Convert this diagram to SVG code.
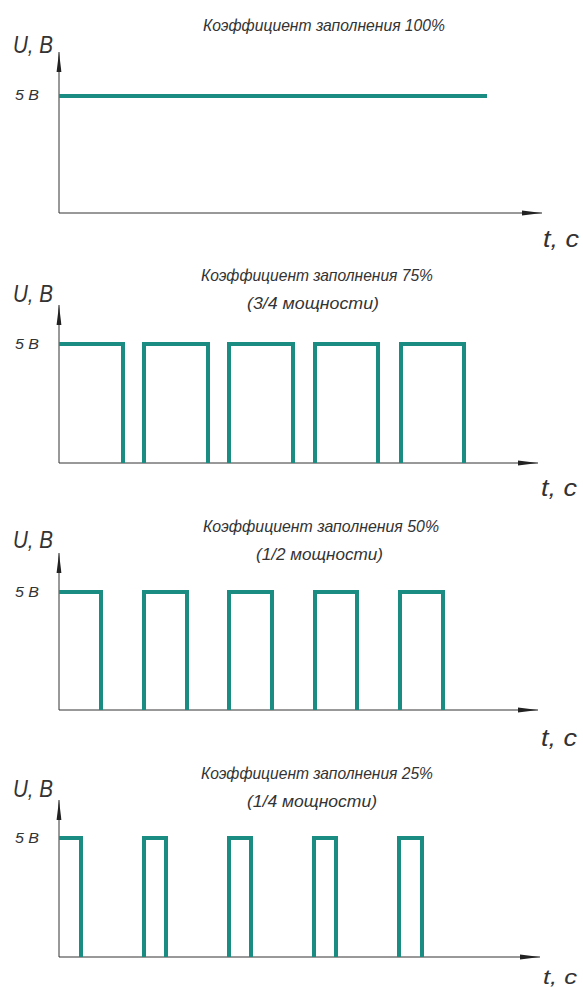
<svg xmlns="http://www.w3.org/2000/svg" width="583" height="990" viewBox="0 0 583 990">
<style>
.bg{fill:#ffffff}
.axis{stroke:#333333;stroke-width:1;fill:none}
.sig{stroke:#1b8c82;stroke-width:4;fill:none;stroke-linejoin:miter;stroke-linecap:butt}
text{font-family:"Liberation Sans","DejaVu Sans",sans-serif;font-style:italic;fill:#333333}
.ttl{font-size:17px}
.ax{font-size:23px}
.lv{font-size:14px}
</style>
<defs>
<marker id="arr" markerUnits="userSpaceOnUse" markerWidth="22" markerHeight="8" refX="20" refY="4" orient="auto">
<path d="M0,1.6 L20,4 L0,6.4 Z" fill="#222222"/>
</marker>
</defs>
<rect class="bg" x="0" y="0" width="583" height="990"/>

<g id="chart-100">
<text class="ttl" x="203" y="31" textLength="242" lengthAdjust="spacingAndGlyphs">Коэффициент заполнения 100%</text>
<text class="ax" x="13" y="53" textLength="40" lengthAdjust="spacingAndGlyphs">U, В</text>
<text class="lv" x="15" y="100" textLength="24" lengthAdjust="spacingAndGlyphs">5 В</text>
<text class="ax" x="543" y="247" textLength="36" lengthAdjust="spacingAndGlyphs">t, с</text>
<g class="connectors">
<path class="axis" d="M59,213 V52" marker-end="url(#arr)"/>
<path class="axis" d="M59,213 H542" marker-end="url(#arr)"/>
</g>
<path class="sig" d="M59,96 H487"/>
</g>

<g id="chart-75">
<text class="ttl" x="201" y="281" textLength="232" lengthAdjust="spacingAndGlyphs">Коэффициент заполнения 75%</text>
<text class="ttl" x="247" y="309" textLength="132" lengthAdjust="spacingAndGlyphs">(3/4 мощности)</text>
<text class="ax" x="13" y="302" textLength="40" lengthAdjust="spacingAndGlyphs">U, В</text>
<text class="lv" x="15" y="349" textLength="24" lengthAdjust="spacingAndGlyphs">5 В</text>
<text class="ax" x="541" y="496" textLength="36" lengthAdjust="spacingAndGlyphs">t, с</text>
<g class="connectors">
<path class="axis" d="M59,463 V305" marker-end="url(#arr)"/>
<path class="axis" d="M59,463 H538" marker-end="url(#arr)"/>
</g>
<path class="sig" d="M59,344 H123 V463 M144,463 V344 H208 V463 M229,463 V344 H293 V463 M315,463 V344 H378 V463 M401,463 V344 H464 V463"/>
</g>

<g id="chart-50">
<text class="ttl" x="203" y="532" textLength="236" lengthAdjust="spacingAndGlyphs">Коэффициент заполнения 50%</text>
<text class="ttl" x="256" y="560" textLength="127" lengthAdjust="spacingAndGlyphs">(1/2 мощности)</text>
<text class="ax" x="13" y="548" textLength="40" lengthAdjust="spacingAndGlyphs">U, В</text>
<text class="lv" x="15" y="597" textLength="24" lengthAdjust="spacingAndGlyphs">5 В</text>
<text class="ax" x="541" y="746" textLength="36" lengthAdjust="spacingAndGlyphs">t, с</text>
<g class="connectors">
<path class="axis" d="M59,710 V553" marker-end="url(#arr)"/>
<path class="axis" d="M59,710 H538" marker-end="url(#arr)"/>
</g>
<path class="sig" d="M59,592 H101 V710 M144,710 V592 H187 V710 M229,710 V592 H272 V710 M315,710 V592 H357 V710 M400,710 V592 H443 V710"/>
</g>

<g id="chart-25">
<text class="ttl" x="201" y="779" textLength="232" lengthAdjust="spacingAndGlyphs">Коэффициент заполнения 25%</text>
<text class="ttl" x="247" y="807" textLength="130" lengthAdjust="spacingAndGlyphs">(1/4 мощности)</text>
<text class="ax" x="13" y="797" textLength="40" lengthAdjust="spacingAndGlyphs">U, В</text>
<text class="lv" x="15" y="843" textLength="24" lengthAdjust="spacingAndGlyphs">5 В</text>
<text class="ax" x="543" y="984" textLength="34" lengthAdjust="spacingAndGlyphs" style="font-size:21px">t, с</text>
<g class="connectors">
<path class="axis" d="M59,957 V800" marker-end="url(#arr)"/>
<path class="axis" d="M59,957 H540" marker-end="url(#arr)"/>
</g>
<path class="sig" d="M59,838 H81 V957 M144,957 V838 H166 V957 M229,957 V838 H251 V957 M314,957 V838 H336 V957 M399,957 V838 H422 V957"/>
</g>
</svg>
